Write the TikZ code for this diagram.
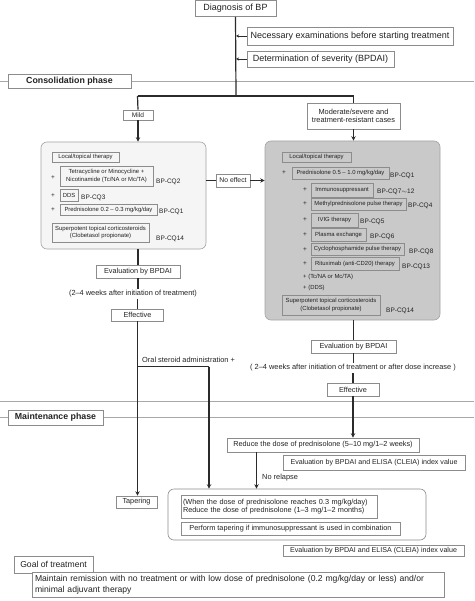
\documentclass[tikz,border=0pt]{standalone}
\usepackage{fontspec}
\setmainfont{Liberation Sans}
\usetikzlibrary{arrows.meta}
\definecolor{bordergray}{HTML}{8C8C8C}
\definecolor{linedark}{HTML}{2B2B2B}
\definecolor{phasegray}{HTML}{A8A8A8}
\definecolor{lightfill}{HTML}{F5F5F5}
\definecolor{grayfill}{HTML}{C9C9C9}
\definecolor{txt}{HTML}{222222}
\tikzset{
  bx/.style={draw=bordergray, line width=0.6pt, inner sep=0pt, text=txt, align=center},
  fA/.style={font=\fontsize{9}{10.5}\selectfont},
  fB/.style={font=\fontsize{7.3}{8.6}\selectfont},
  fC/.style={font=\fontsize{5.9}{7.4}\selectfont},
  fD/.style={font=\fontsize{6.5}{7.5}\selectfont},
  fE/.style={font=\fontsize{7.4}{8.5}\selectfont},
  fPh/.style={font=\bfseries\fontsize{8.8}{10}\selectfont},
  lbl/.style={inner sep=0pt, text=txt, anchor=west},
  conn/.style={draw=linedark, line width=1.2pt},
  arr/.style={conn, -{Stealth[length=4.5pt,width=4.5pt]}},
  sarr/.style={draw=linedark, line width=0.9pt, -{Stealth[length=3pt,width=3pt]}},
  phase/.style={draw=phasegray, line width=0.7pt},
  panel/.style={draw=bordergray!80, line width=0.6pt, rounded corners=6pt},
}
\begin{document}
\begin{tikzpicture}[x=1pt,y=-1pt]
\useasboundingbox (0,0) rectangle (474,601);
% phase lines
\draw[phase] (0,81) -- (474,81);
\draw[phase] (0,401.5) -- (474,401.5);
\draw[phase] (0,417.5) -- (474,417.5);
% top
\node[bx,fA,fill=white,minimum width=81pt,minimum height=16pt] (diag) at (235.5,8.5) {Diagnosis of BP};
\node[bx,fA,fill=white,minimum width=206pt,minimum height=18pt] (nec) at (350,36) {Necessary examinations before starting treatment};
\node[bx,fA,fill=white,minimum width=147pt,minimum height=16pt] (sev) at (320.5,59) {Determination of severity (BPDAI)};
\coordinate (br) at (236,96);
\coordinate (bl) at (137.5,96);
\coordinate (brr) at (353.5,96);
\draw[conn] (diag.south) -- (br);
\draw[sarr] (nec.west) -- (nec.west -| br);
\draw[sarr] (sev.west) -- (sev.west -| br);
\draw[conn] (bl) -- (brr);
\node[bx,fPh,fill=white,minimum width=123pt,minimum height=14pt] (cons) at (69.5,81) {Consolidation phase};
% branches
\node[bx,font=\fontsize{6.6}{8}\selectfont,fill=white,minimum width=30pt,minimum height=10pt] (mild) at (138,115) {Mild};
\node[bx,fE,fill=white,minimum width=93pt,minimum height=26pt] (mod) at (353.5,116) {Moderate/severe and\\treatment-resistant cases};
\draw[conn] (bl) -- (mild.north);
\draw[conn] (brr) -- (mod.north);
% left panel
\node[panel,fill=lightfill,minimum width=165pt,minimum height=107pt,inner sep=0pt] (lp) at (123.5,195.5) {};
\draw[arr] (mild.south) -- (mild.south |- lp.north);
\node[bx,fC,minimum width=67pt,minimum height=10pt] (l1) at (85.5,157) {Local/topical therapy};
\node[lbl,fD] (lp1) at (51,178) {+};
\node[bx,fC,minimum width=93pt,minimum height=20pt] (l2) at (106.5,176) {Tetracycline or Minocycline +\\Nicotinamide (Tc/NA or Mc/TA)};
\node[lbl,fD] (lq2) at (156,182) {BP-CQ2};
\node[lbl,fD] (lp2) at (51,196) {+};
\node[bx,fC,minimum width=18pt,minimum height=12pt] (l3) at (69,195) {DDS};
\node[lbl,fD] (lq3) at (81,198) {BP-CQ3};
\node[lbl,fD] (lp3) at (51,209.5) {+};
\node[bx,fC,minimum width=97pt,minimum height=11pt] (l4) at (108.5,209.5) {Prednisolone 0.2 – 0.3 mg/kg/day};
\node[lbl,fD] (lq4) at (159,211.5) {BP-CQ1};
\node[bx,fC,minimum width=97pt,minimum height=19pt] (l5) at (100.5,232.5) {Superpotent topical corticosteroids\\(Clobetasol propionate)};
\node[lbl,fD] (lq5) at (156,239) {BP-CQ14};
% no effect
\node[bx,font=\fontsize{6.8}{8}\selectfont,fill=white,minimum width=34pt,minimum height=13pt] (noeff) at (233,180.5) {No effect};
% right panel
\node[panel,fill=grayfill,minimum width=175pt,minimum height=179pt,inner sep=0pt] (gp) at (352.5,230.5) {};
\draw[arr] (mod.south) -- (mod.south |- gp.north);
\draw[conn] (lp.east |- noeff.west) -- (noeff.west);
\draw[arr] (noeff.east) -- (noeff.east -| gp.west);
\node[bx,fC,minimum width=69pt,minimum height=10pt] (g1) at (316.5,157) {Local/topical therapy};
\node[lbl,fD] (gp1) at (282,173) {+};
\node[bx,fC,minimum width=97pt,minimum height=12pt] (g2) at (340.5,173) {Prednisolone 0.5 – 1.0 mg/kg/day};
\node[lbl,fD] (gq2) at (390,176) {BP-CQ1};
\node[lbl,fD] (gp3) at (303,190) {+};
\node[bx,fC,minimum width=62pt,minimum height=14pt] (g3) at (342,190) {Immunosuppressant};
\node[lbl,fD] (gq3) at (377,191.5) {BP-CQ7$\sim$12};
\node[lbl,fD] (gp4) at (303,204) {+};
\node[bx,fC,minimum width=95pt,minimum height=12pt] (g4) at (358.5,204) {Methylprednisolone pulse therapy};
\node[lbl,fD] (gq4) at (408,206) {BP-CQ4};
\node[lbl,fD] (gp5) at (303,220) {+};
\node[bx,fC,minimum width=47pt,minimum height=14pt] (g5) at (334.5,220) {IVIG therapy};
\node[lbl,fD] (gq5) at (360,221.5) {BP-CQ5};
\node[lbl,fD] (gp6) at (303,234.5) {+};
\node[bx,fC,minimum width=55pt,minimum height=13pt] (g6) at (338.5,234.5) {Plasma exchange};
\node[lbl,fD] (gq6) at (370,236.5) {BP-CQ6};
\node[lbl,fD] (gp7) at (303,249.5) {+};
\node[bx,fC,minimum width=93pt,minimum height=12pt] (g7) at (357.5,249) {Cyclophosphamide pulse therapy};
\node[lbl,fD] (gq7) at (409,251.5) {BP-CQ8};
\node[lbl,fD] (gp8) at (303,264) {+};
\node[bx,fC,minimum width=88pt,minimum height=13pt] (g8) at (355,263.5) {Rituximab (anti-CD20) therapy};
\node[lbl,fD] (gq8) at (402,266.5) {BP-CQ13};
\node[lbl,fC] (g9) at (303,277) {+ (Tc/NA or Mc/TA)};
\node[lbl,fC] (g10) at (303,288) {+ (DDS)};
\node[bx,fC,minimum width=98pt,minimum height=20pt] (g11) at (331,305) {Superpotent topical corticosteroids\\(Clobetasol propionate)};
\node[lbl,fD] (gq11) at (386,311) {BP-CQ14};
% left evaluation column
\node[bx,fB,fill=white,minimum width=84pt,minimum height=13pt] (ev1) at (138,271.5) {Evaluation by BPDAI};
\node[fE,inner sep=1.5pt,text=txt] (wk1) at (133,294) {(2–4 weeks after initiation of treatment)};
\node[bx,fB,fill=white,minimum width=52pt,minimum height=12pt] (ef1) at (137.5,315) {Effective};
\draw[conn] (lp.south -| ev1.north) -- (ev1.north);
\draw[conn] (ev1.south) -- (ev1.south |- wk1.north);
\draw[conn] (ef1.north |- wk1.south) -- (ef1.north);
% right evaluation column
\node[bx,fB,fill=white,minimum width=85pt,minimum height=13pt] (ev2) at (353.5,346.5) {Evaluation by BPDAI};
\node[fE,inner sep=1.5pt,text=txt] (wk2) at (353,368) {( 2–4 weeks after initiation of treatment or after dose increase )};
\node[bx,fB,fill=white,minimum width=52pt,minimum height=13pt] (ef2) at (353,389.5) {Effective};
\draw[conn] (gp.south -| ev2.north) -- (ev2.north);
\draw[conn] (ev2.south) -- (ev2.south |- wk2.north);
\draw[conn] (ef2.north |- wk2.south) -- (ef2.north);
% maintenance
\node[bx,fPh,fill=white,minimum width=95pt,minimum height=15pt] (mnt) at (55.5,417.5) {Maintenance phase};
\node[bx,fB,fill=white,minimum width=192pt,minimum height=14pt] (red) at (323,445) {Reduce the dose of prednisolone (5–10 mg/1–2 weeks)};
\node[bx,font=\fontsize{7.1}{8.5}\selectfont,fill=white,minimum width=182pt,minimum height=15pt] (ee1) at (374,462.5) {Evaluation by BPDAI and ELISA (CLEIA) index value};
\draw[arr] (ef2.south) -- (ef2.south |- red.north);
\node[bx,fB,fill=white,minimum width=41pt,minimum height=12pt] (tap) at (136.5,502) {Tapering};
\draw[arr] (ef1.south) -- (ef1.south |- tap.north);
\node[panel,draw=bordergray,fill=white,minimum width=258pt,minimum height=51pt,inner sep=0pt] (big) at (297,514.5) {};
\node[bx,fB,minimum width=196pt,minimum height=23pt,align=left,text width=192pt] (in1) at (279,506.5) {(When the dose of prednisolone reaches 0.3 mg/kg/day)\\Reduce the dose of prednisolone (1–3 mg/1–2 months)};
\node[bx,fB,minimum width=219pt,minimum height=13pt] (in2) at (290.5,528.5) {Perform tapering if immunosuppressant is used in combination};
\node[bx,font=\fontsize{7.1}{8.5}\selectfont,fill=white,minimum width=181pt,minimum height=11pt] (ee2) at (373.5,550.5) {Evaluation by BPDAI and ELISA (CLEIA) index value};
% oral steroid branch
\coordinate (ob) at (137.5,366.5);
\coordinate (oc) at (209,366.5);
\node[lbl,fE] (oral) at (142,359.5) {Oral steroid administration +};
\draw[conn] (ob) -- (oc);
\draw[arr] (oc) -- (oc |- big.north);
% no relapse
\coordinate (nr) at (256.5,0);
\draw[arr] (red.south -| nr) -- (nr |- big.north);
\node[lbl,fE] (nrl) at (262,478) {No relapse};
% goal
\node[bx,fill=white,font=\fontsize{8.6}{10}\selectfont,minimum width=79pt,minimum height=17pt] (goal) at (53.5,564.5) {Goal of treatment};
\node[bx,fill=white,font=\fontsize{8.6}{10.8}\selectfont,minimum width=412pt,minimum height=25pt,align=left,text width=406pt] (mr) at (238,584.5) {Maintain remission with no treatment or with low dose of prednisolone (0.2 mg/kg/day or less) and/or\\minimal adjuvant therapy};
\end{tikzpicture}
\end{document}
